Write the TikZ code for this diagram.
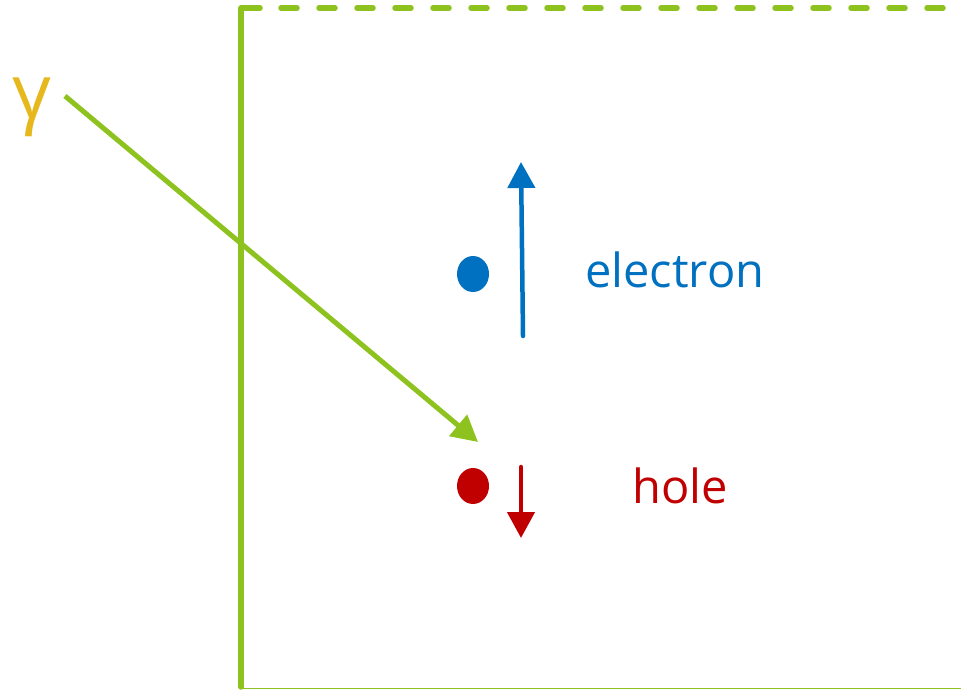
\documentclass[tikz,border=0pt]{standalone}
\usepackage{fontspec}
\setmainfont{Open Sans}
\usetikzlibrary{arrows.meta,shapes.geometric}
\definecolor{lgreen}{HTML}{8EC31F}
\definecolor{eblue}{HTML}{0070C0}
\definecolor{hred}{HTML}{C00000}
\definecolor{gold}{HTML}{E6B81E}
\tikzset{
  lbl/.style={font=\fontsize{47}{51}\selectfont, inner sep=0pt, anchor=base west},
  dot/.style={ellipse, minimum width=32pt, minimum height=36pt, inner sep=0pt, draw=none},
  motion/.style={line width=4.5pt, -{Triangle[length=26pt,width=27pt]}},
  border/.style={lgreen, line width=5.5pt}
}
\begin{document}
\begin{tikzpicture}[x=1pt,y=-1pt]
\useasboundingbox (0,0) rectangle (961,690);
% detector borders
\coordinate (bl) at (241,687);
\coordinate (tl) at (241,8);
\coordinate (tr) at (961,8);
\coordinate (br) at (961,688.5);
\coordinate (bl2) at (241,688.5);
\draw[border, line cap=round, line join=round] (bl) -- (tl) -- (260,8);
\draw[border, line cap=round, dash pattern=on 16pt off 22pt] (281,8) -- (tr);
\draw[lgreen, line width=1.5pt] (bl2) -- (br);
% gamma
\node[lbl, font=\fontsize{76}{80}\selectfont, text=gold] (gamma) at (12,119) {γ};
\coordinate (gstart) at (65,96);
\coordinate (gend) at (478,442);
\draw[motion, lgreen, line width=5pt] (gstart) -- (gend);
% electron
\node[dot, fill=eblue] (edot) at (473,274) {};
\coordinate (ebot) at (523,336);
\coordinate (etop) at (521,162);
\draw[motion, eblue, line cap=round] (ebot) -- (etop);
\node[lbl, text=eblue] (elab) at (585,287) {electron};
% hole
\node[dot, fill=hred] (hdot) at (473,486) {};
\coordinate (htop) at (521,467);
\coordinate (hbot) at (521,538);
\draw[motion, hred, line cap=round] (htop) -- (hbot);
\node[lbl, text=hred] (hlab) at (632,503) {hole};
\end{tikzpicture}
\end{document}
